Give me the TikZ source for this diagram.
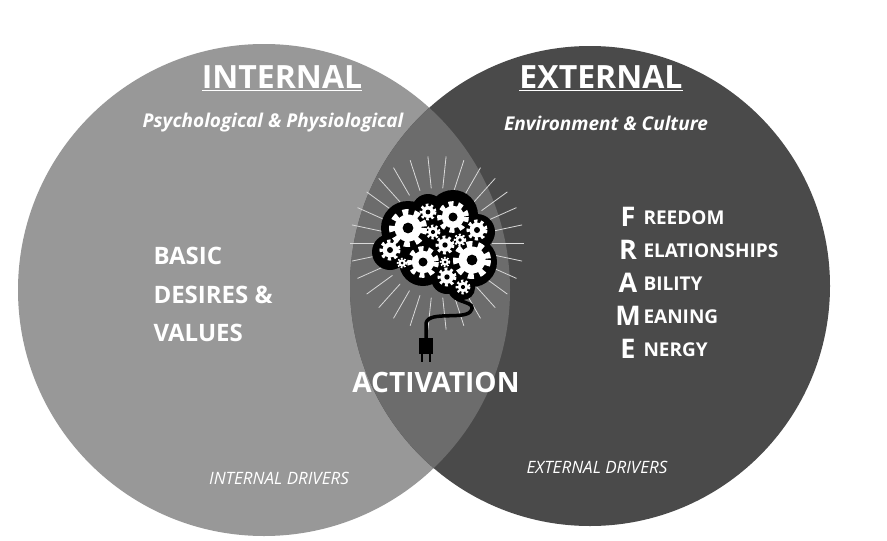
\documentclass[tikz,border=0pt]{standalone}
\usepackage{fontspec}
\setmainfont{Open Sans}
\usetikzlibrary{positioning}
\definecolor{leftgray}{RGB}{152,152,152}
\definecolor{rightgray}{RGB}{74,74,74}
\definecolor{midgray}{RGB}{108,108,108}
\tikzstyle{title} = [text=white, font=\bfseries\fontsize{32}{36}\selectfont]
\tikzstyle{sub} = [text=white, font=\bfseries\itshape\fontsize{19}{22}\selectfont]
\tikzstyle{body} = [text=white, font=\bfseries\fontsize{24}{28}\selectfont, anchor=west]
\tikzstyle{drivers} = [text=white, font=\itshape\fontsize{17}{20}\selectfont]
\tikzstyle{ray} = [white!85!black, line width=0.8pt]
\newcommand{\cog}[3]{%
  \draw[white, line width=#3*0.35pt, dash pattern=on #3*0.32pt off #3*0.32pt] (#1,#2) circle (#3*0.88);
  \fill[white] (#1,#2) circle (#3*0.75);
  \fill[black] (#1,#2) circle (#3*0.3);}

\begin{document}
\begin{tikzpicture}[x=1pt,y=-1pt]
\useasboundingbox (0,0) rectangle (887,541);
\fill[white] (0,0) rectangle (887,541);
% circles
\fill[leftgray] (264,290) circle (246);
\fill[rightgray] (590,286) circle (240);
\begin{scope}
  \clip (264,290) circle (246);
  \fill[midgray] (590,286) circle (240);
\end{scope}
% rays
\foreach \a in {0,12,...,348}
  \draw[ray] (437,243) ++(\a:55) -- ++(\a:32);
% brain
\fill[black] (408,228) circle (27) (453,215) circle (25) (428,210) circle (16)
  (477,232) circle (18) (390,252) circle (18) (423,262) circle (24)
  (472,262) circle (25) (447,278) circle (16) (463,288) circle (12) (440,240) circle (20);
\cog{408}{228}{18}\cog{453}{217}{15}\cog{428}{212}{8}\cog{477}{230}{10}
\cog{433}{232}{7}\cog{390}{250}{10}\cog{423}{262}{15}\cog{445}{245}{9}
\cog{460}{240}{6}\cog{472}{260}{18}\cog{447}{277}{9}\cog{463}{287}{7}
\cog{402}{263}{5}\cog{445}{262}{5}
% cable and plug
\draw[black, line width=3.5pt] (450,290) .. controls (452,305) and (480,300) .. (470,312)
  .. controls (462,320) and (425,310) .. (426,325) -- (426,340);
\fill[black] (419,338) rectangle (433,354);
\draw[black, line width=2pt] (422,354) -- (422,362) (430,354) -- (430,362);
% texts
\node[title] (internal) at (282,78) {\underline{INTERNAL}};
\node[sub] (psy) at (273,123) {Psychological \& Physiological};
\node[title] (external) at (601,78) {\underline{EXTERNAL}};
\node[sub] (env) at (606,123) {Environment \& Culture};
\node[body] (basic) at (150,256) {BASIC};
\node[body] (desires) at (150,295) {DESIRES \&};
\node[body] (values) at (150,333) {VALUES};
\foreach \l/\w [count=\i] in {F/REEDOM,R/ELATIONSHIPS,A/BILITY,M/EANING,E/NERGY}{
  \node[text=white, font=\bfseries\fontsize{27}{30}\selectfont] (frame\i) at (628,184+33*\i) {\l};
  \node[text=white, font=\fontsize{19}{22}\selectfont\bfseries, anchor=west] (word\i) at (640,185+33*\i) {\w};
}
\node[text=white, font=\bfseries\fontsize{28}{32}\selectfont] (activation) at (436,382) {ACTIVATION};
\node[drivers] (intdrv) at (279,478) {INTERNAL DRIVERS};
\node[drivers] (extdrv) at (597,467) {EXTERNAL DRIVERS};
\end{tikzpicture}
\end{document}
